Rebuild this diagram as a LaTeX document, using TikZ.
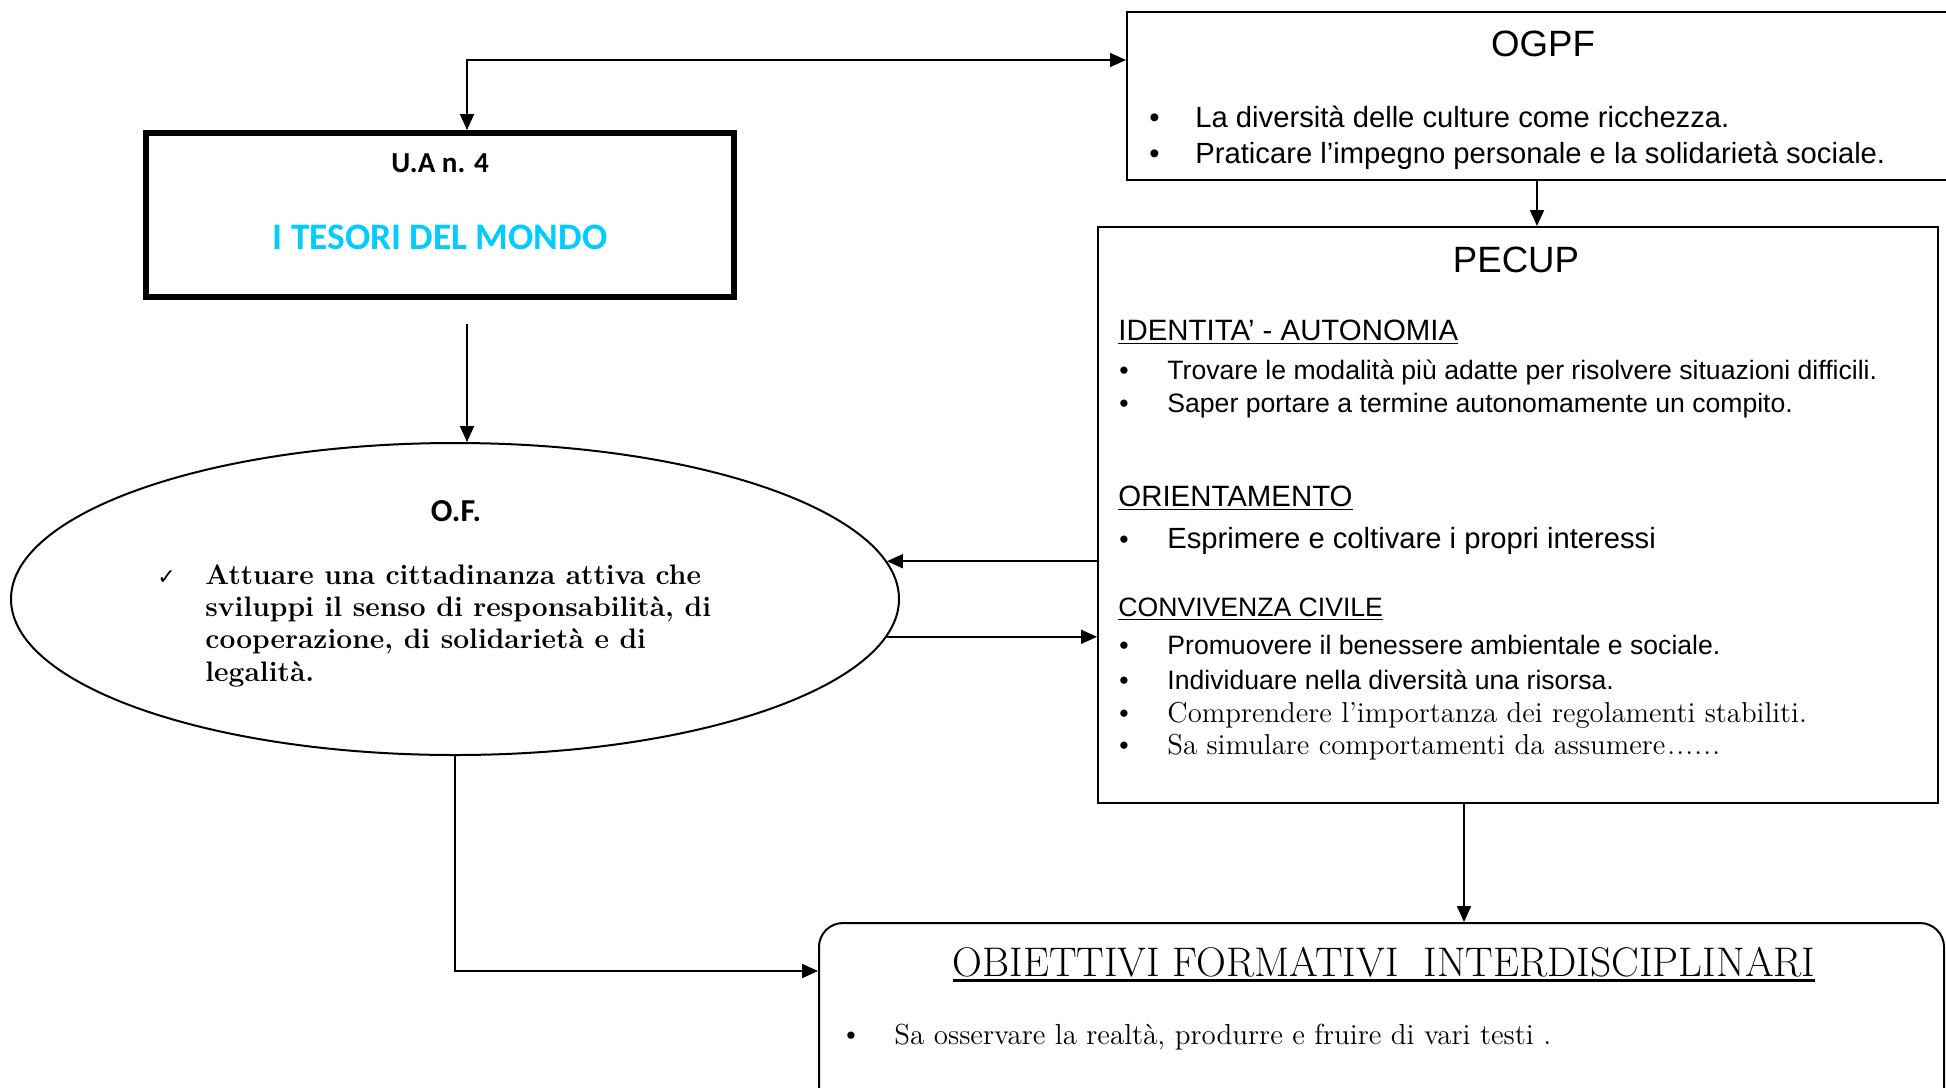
\documentclass[tikz,border=0pt]{standalone}
\usepackage{fontspec}
\newfontfamily\arial{Liberation Sans}
\newfontfamily\calibri{Carlito}
\newfontfamily\dejavu{DejaVu Sans}
\usetikzlibrary{shapes.geometric,arrows.meta}
\newcommand\fsz[1]{\fontsize{#1}{#1}\selectfont}
\newsavebox\ulbox
\newcommand\thickul[1]{\sbox\ulbox{#1}\rlap{\rule[-3pt]{\wd\ulbox}{1.4pt}}\usebox\ulbox}
\definecolor{tcyan}{RGB}{0,204,255}
\begin{document}
\begin{tikzpicture}[x=0.5pt,y=-0.5pt,
  frame/.style={draw, line width=1pt, inner sep=0},
  t/.style={inner sep=0, anchor=base west},
  tc/.style={inner sep=0, anchor=base},
  arr/.style={-{Triangle[length=8pt,width=7pt]}, line width=0.9pt},
  dbl/.style={{Triangle[length=8pt,width=7pt]}-{Triangle[length=8pt,width=7pt]}, line width=0.9pt},
  sans/.style={font=\arial\fsz{13.3}},
  serif/.style={font=\fsz{14.4}},
  head/.style={font=\arial\fsz{14.7}},
  bold/.style={font=\bfseries\fsz{14.1}}]
\useasboundingbox (0,0) rectangle (1946,1087);
\clip (0,0) rectangle (1946,1087);

% boxes
\node[frame, line width=3pt, minimum width=294pt, minimum height=82pt] (ua) at (439.5,215) {};
\node[frame, minimum width=416.5pt, minimum height=84pt] (ogpf) at (1543.5,96) {};
\node[frame, minimum width=420pt, minimum height=288pt] (pecup) at (1518,515) {};
\node[frame, rounded corners=12pt, minimum width=562.5pt, minimum height=103.5pt] (obi) at (1381.5,1026.5) {};
\node[draw, ellipse, line width=1pt, inner sep=0, minimum width=444pt, minimum height=156pt] (of) at (455,599) {};

% U.A texts
\node[tc, font=\calibri\bfseries\fsz{14.5}] (uan) at (440,172) {U.A n. 4};
\node[tc, font=\calibri\bfseries\fsz{18.7}, text=tcyan] (tes) at (440,249) {I TESORI DEL MONDO};

% OGPF texts
\node[tc, font=\arial\fsz{18.3}] (ogt) at (1543,56) {OGPF};
\node[t, font=\arial\fsz{14.6}] (ogb1) at (1149,127) {•};
\node[t, font=\arial\fsz{14.6}] (ogl1) at (1195,127) {La diversità delle culture come ricchezza.};
\node[t, font=\arial\fsz{14.6}] (ogb2) at (1149,163) {•};
\node[t, font=\arial\fsz{14.6}] (ogl2) at (1195,163) {Praticare l’impegno personale e la solidarietà sociale.};

% PECUP texts
\node[tc, font=\arial\fsz{18.3}] (pet) at (1516,272) {PECUP};
\node[t, head] (h1) at (1118,340) {\underline{IDENTITA’ - AUTONOMIA}};
\node[t, sans] (b1) at (1119,379) {•};
\node[t, sans] (l1) at (1167,379) {Trovare le modalità più adatte per risolvere situazioni difficili.};
\node[t, sans] (b2) at (1119,412) {•};
\node[t, sans] (l2) at (1167,412) {Saper portare a termine autonomamente un compito.};
\node[t, head] (h2) at (1118,506) {\underline{ORIENTAMENTO}};
\node[t, sans] (b3) at (1119,548) {•};
\node[t, font=\arial\fsz{14.6}] (l3) at (1167,548) {Esprimere e coltivare i propri interessi};
\node[t, font=\arial\fsz{13.3}] (h3) at (1118,616) {\underline{CONVIVENZA CIVILE}};
\node[t, sans] (b4) at (1119,654) {•};
\node[t, sans] (l4) at (1167,654) {Promuovere il benessere ambientale e sociale.};
\node[t, sans] (b5) at (1119,689) {•};
\node[t, sans] (l5) at (1167,689) {Individuare nella diversità una risorsa.};
\node[t, sans] (b6) at (1119,722) {•};
\node[t, serif] (l6) at (1167,722) {Comprendere l’importanza dei regolamenti stabiliti.};
\node[t, sans] (b7) at (1119,754) {•};
\node[t, serif] (l7) at (1167,754) {Sa simulare comportamenti da assumere\kern1pt.\kern0.6pt.\kern0.6pt.\kern0.6pt.\kern0.6pt.\kern0.6pt.};

% OBIETTIVI texts
\node[tc, font=\fsz{20.7}] (obt) at (1384,976) {\thickul{OBIETTIVI FORMATIVI\ \ INTERDISCIPLINARI}};
\node[t, sans] (ob1) at (846,1044) {•};
\node[t, font=\fsz{14.5}] (obl) at (894,1044) {Sa osservare la realtà, produrre e fruire di vari testi .};

% ellipse texts
\node[tc, font=\calibri\bfseries\fsz{16}] (oft) at (456,521) {O.F.};
\node[t, font=\dejavu\fsz{11}] (ck) at (157,584) {✓};
\node[t, bold] (e1) at (205,584) {Attuare una cittadinanza attiva che};
\node[t, bold] (e2) at (205,616) {sviluppi il senso di responsabilità, di};
\node[t, bold] (e3) at (205,648) {cooperazione, di solidarietà e di};
\node[t, bold] (e4) at (205,681) {legalità.};

% connectors
\coordinate (k1) at (467,60);
\coordinate (k2) at (1537,0);
\coordinate (k3) at (467,324);
\coordinate (k4) at (1464,0);
\coordinate (k5) at (0,971);
\draw[dbl] (ua.north -| k1) |- (ogpf.west |- k1);
\draw[arr] (ogpf.south -| k2) -- (pecup.north -| k2);
\draw[arr] (k3) -- (of.north -| k3);
\draw[arr] (of.5 -| pecup.west) -- (of.5);
\draw[arr] (of.-5) -- (of.-5 -| pecup.west);
\draw[arr] (pecup.south -| k4) -- (obi.north -| k4);
\draw[arr] (of.south) |- (obi.west |- k5);
\end{tikzpicture}
\end{document}
